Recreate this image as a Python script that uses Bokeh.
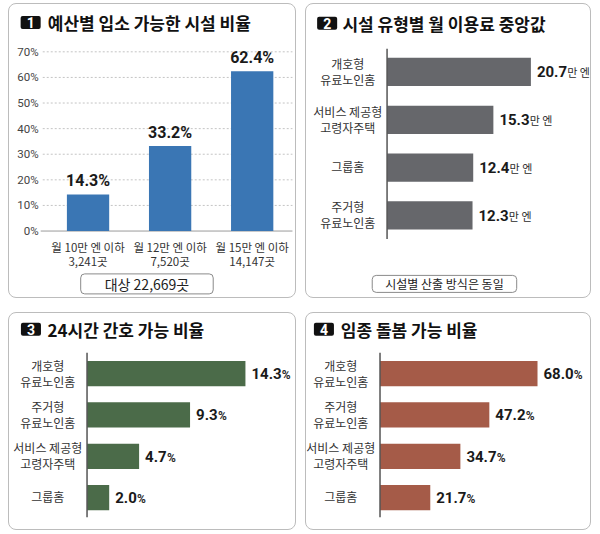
from bokeh.plotting import figure
from bokeh.models import ColumnDataSource, LabelSet, Label, Range1d
from bokeh.layouts import row, column
from bokeh.core.properties import value
from bokeh.embed import file_html
from bokeh.resources import INLINE

KR = "Noto Sans CJK KR"
NUM = "Roboto"

# 1 예산별 입소 가능한 시설 비율
budget_labels = ["월 10만 엔 이하", "월 12만 엔 이하", "월 15만 엔 이하"]
budget_counts = ["3,241곳", "7,520곳", "14,147곳"]
budget_share = [14.3, 33.2, 62.4]
budget_total = "대상 22,669곳"
budget_ticks = [0, 10, 20, 30, 40, 50, 60, 70]

# 2 시설 유형별 월 이용료 중앙값 (만 엔)
fee_types = ["개호형\n유료노인홈", "서비스 제공형\n고령자주택", "그룹홈", "주거형\n유료노인홈"]
fee_median = [20.7, 15.3, 12.4, 12.3]
fee_note = "시설별 산출 방식은 동일"

# 3 24시간 간호 가능 비율
nursing_types = ["개호형\n유료노인홈", "주거형\n유료노인홈", "서비스 제공형\n고령자주택", "그룹홈"]
nursing_share = [14.3, 9.3, 4.7, 2.0]

# 4 임종 돌봄 가능 비율
eol_types = ["개호형\n유료노인홈", "주거형\n유료노인홈", "서비스 제공형\n고령자주택", "그룹홈"]
eol_share = [68.0, 47.2, 34.7, 21.7]

titles = ["예산별 입소 가능한 시설 비율", "시설 유형별 월 이용료 중앙값",
          "24시간 간호 가능 비율", "임종 돌봄 가능 비율"]


def num_width(s, size):
    # rough advance width of a bold Roboto number
    return sum(0.27 if ch == "." else 0.562 for ch in s) * size


class Space:
    """maps canvas pixels of one panel to its data units"""

    def __init__(self, cw, ch, x0, sx, y0, sy, down=False):
        self.cw, self.ch = cw, ch
        self.x0, self.sx, self.y0, self.sy, self.down = x0, sx, y0, sy, down

    def x(self, lx):
        return (lx - self.x0) / self.sx

    def y(self, ly):
        if self.down:
            return (ly - self.y0) / self.sy
        return (self.y0 - ly) / self.sy

    def figure(self):
        p = figure(width=self.cw + 2, height=self.ch + 2,
                   x_range=Range1d(self.x(0), self.x(self.cw)),
                   y_range=Range1d(self.y(self.ch), self.y(0)),
                   min_border=0, x_axis_location=None, y_axis_location=None,
                   toolbar_location=None, output_backend="svg")
        p.grid.visible = False
        p.border_fill_color = None
        p.background_fill_color = None
        p.outline_line_color = None
        p.styles = {"border": "1px solid #bcbcbc", "border-radius": "8px",
                    "box-sizing": "border-box"}
        return p


def header(p, S, num, text, bx, tx, ty):
    p.add_layout(Label(x=S.x(bx), y=S.y(ty), text=num,
                       text_font=NUM, text_font_style="bold", text_font_size="14px",
                       text_color="white", text_align="center", text_baseline="middle",
                       background_fill_color="#111111", border_radius=2,
                       padding=dict(left=6, right=6, top=1, bottom=1)))
    p.add_layout(Label(x=S.x(tx), y=S.y(ty), text=text,
                       text_font=KR, text_font_style="bold", text_font_size="17px",
                       text_color="#111111", text_align="left", text_baseline="middle"))


def note(p, S, text, cx, cy, size, padx):
    p.add_layout(Label(x=S.x(cx), y=S.y(cy), text=text,
                       text_font=KR, text_font_size=size, text_color="#222222",
                       text_align="center", text_baseline="middle",
                       background_fill_color="white", border_line_color="#8a8a8a",
                       border_line_width=1, border_radius=4,
                       padding=dict(left=padx, right=padx, top=0, bottom=0)))


def hbar_panel(S, cats, vals, color, unit, unit_size, bar_h, axis_top, axis_bottom, cat_x):
    p = S.figure()
    src = ColumnDataSource(dict(
        idx=list(range(len(cats))), val=vals,
        line1=[c.split("\n")[0] for c in cats],
        line2=[c.split("\n")[1] if "\n" in c else "" for c in cats],
        off1=[8.5 if "\n" in c else 1 for c in cats],
        num=[f"{v:.1f}" for v in vals],
        unit=[unit] * len(vals),
        uoff=[6 + num_width(f"{v:.1f}", 15) + 1 for v in vals],
    ))
    p.hbar(y="idx", left=0, right="val", height=bar_h, source=src,
           fill_color=color, line_color=None)
    p.segment(x0=0, y0=S.y(axis_top), x1=0, y1=S.y(axis_bottom),
              line_color="#555555", line_width=1.5)
    cat_style = dict(text_font=value(KR), text_font_size="12px", text_color="#333333",
                     text_align="center", text_baseline="middle")
    p.add_layout(LabelSet(x=S.x(cat_x), y="idx", text="line1", y_offset="off1",
                          source=src, **cat_style))
    p.add_layout(LabelSet(x=S.x(cat_x), y="idx", text="line2", y_offset=-7.5,
                          source=src, **cat_style))
    p.add_layout(LabelSet(x="val", y="idx", text="num", source=src, x_offset=6, y_offset=-5.5,
                          text_font=value(NUM), text_font_style="bold", text_font_size="15px",
                          text_color="#1a1a1a", text_align="left", text_baseline="alphabetic"))
    p.add_layout(LabelSet(x="val", y="idx", text="unit", source=src, x_offset="uoff", y_offset=-5.5,
                          text_font=value(KR if unit != "%" else NUM),
                          text_font_style="normal" if unit != "%" else "bold",
                          text_font_size=unit_size,
                          text_color="#2a2a2a", text_align="left", text_baseline="alphabetic"))
    return p


# ---- panel 1 ----
S1 = Space(286, 293, 78, 81.5, 225, 178 / 70)
p1 = S1.figure()
s1 = ColumnDataSource(dict(idx=list(range(len(budget_share))), share=budget_share,
                           txt=[f"{v}%" for v in budget_share],
                           lab=budget_labels, cnt=budget_counts))
st = ColumnDataSource(dict(t=budget_ticks[1:], txt=[f"{t}%" for t in budget_ticks[1:]]))
p1.segment(x0=S1.x(33), x1=S1.x(281), y0="t", y1="t", source=st,
           line_color="#c4c4c4", line_dash="2 2", line_width=1)
p1.segment(x0=S1.x(31), x1=S1.x(281), y0=budget_ticks[0], y1=budget_ticks[0],
           line_color="#9a9a9a", line_width=1)
p1.vbar(x="idx", top="share", width=42 / 81.5, bottom=0, source=s1,
        fill_color="#3a76b4", line_color=None)
p1.add_layout(LabelSet(x="idx", y="share", text="txt", source=s1, y_offset=8,
                       text_font=value(NUM), text_font_style="bold", text_font_size="16px",
                       text_color="#1a1a1a", text_align="center", text_baseline="alphabetic"))
p1.add_layout(LabelSet(x=S1.x(29), y="t", text="txt", source=st,
                       text_font=value(NUM), text_font_size="11.5px", text_color="#444444",
                       text_align="right", text_baseline="middle"))
p1.add_layout(LabelSet(x=S1.x(29), y=budget_ticks[0], text=value("0%"),
                       text_font=value(NUM), text_font_size="11.5px", text_color="#444444",
                       text_align="right", text_baseline="middle"))
p1.add_layout(LabelSet(x="idx", y=S1.y(241), text="lab", source=s1,
                       text_font=value(KR), text_font_size="11.5px", text_color="#333333",
                       text_align="center", text_baseline="middle"))
p1.add_layout(LabelSet(x="idx", y=S1.y(255), text="cnt", source=s1,
                       text_font=value(KR), text_font_size="11.5px", text_color="#333333",
                       text_align="center", text_baseline="middle"))
header(p1, S1, "1", titles[0], 21, 38, 18)
note(p1, S1, budget_total, 136.5, 277.5, "14px", 24)

# ---- panel 2 ----
S2 = Space(284, 293, 80, 6.9, 67, 47.5, down=True)
p2 = hbar_panel(S2, fee_types, fee_median, "#66676b", "만 엔", "11px", 28 / 47.5, 44, 233, 41)
header(p2, S2, "2", titles[1], 20.5, 35.7, 18.5)
note(p2, S2, fee_note, 137, 277.5, "12px", 13)

# ---- panel 3 ----
S3 = Space(286, 216, 77, 11.0, 59.5, 41, down=True)
p3 = hbar_panel(S3, nursing_types, nursing_share, "#4b6b49", "%", "12px", 25 / 41, 39, 202, 38)
header(p3, S3, "3", titles[2], 21.3, 37.7, 15.7)

# ---- panel 4 ----
S4 = Space(284, 216, 73, 2.3, 59.5, 41, down=True)
p4 = hbar_panel(S4, eol_types, eol_share, "#a55b48", "%", "12px", 25 / 41, 39, 202, 34)
header(p4, S4, "4", titles[3], 17.3, 34, 15.7)

layout = column(row(p1, p2, spacing=9), row(p3, p4, spacing=9), spacing=14,
                margin=(3, 0, 0, 8))

open("out.html", "w").write(file_html(layout, INLINE))
